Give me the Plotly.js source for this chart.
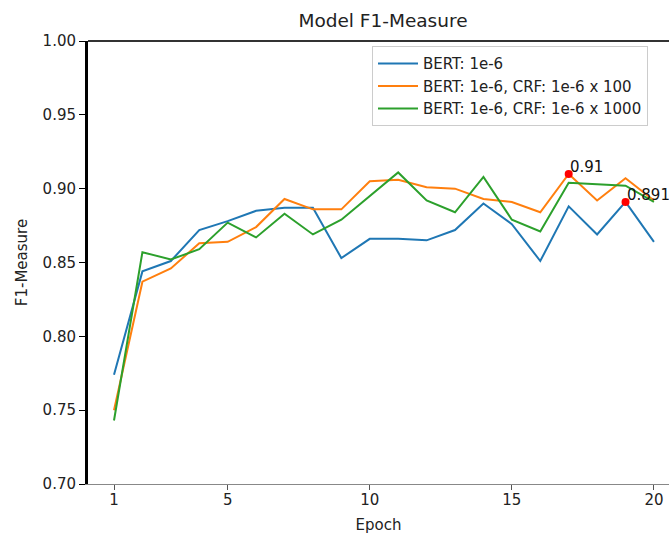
<!DOCTYPE html>
<html>
<head>
<meta charset="utf-8">
<script src="https://cdn.plot.ly/plotly-3.0.1.min.js"></script>
<style>html,body{margin:0;padding:0;background:#fff;overflow:hidden}</style>
</head>
<body>
<div id="chart" style="width:669px;height:536px"></div>
<script>
const epochs = [1,2,3,4,5,6,7,8,9,10,11,12,13,14,15,16,17,18,19,20];
const bert = [0.774,0.844,0.851,0.872,0.878,0.885,0.887,0.887,0.853,0.866,0.866,0.865,0.872,0.890,0.876,0.851,0.888,0.869,0.891,0.864];
const bertCrf100 = [0.750,0.837,0.846,0.863,0.864,0.874,0.893,0.886,0.886,0.905,0.906,0.901,0.900,0.893,0.891,0.884,0.910,0.892,0.907,0.892];
const bertCrf1000 = [0.743,0.857,0.852,0.859,0.877,0.867,0.883,0.869,0.879,0.895,0.911,0.892,0.884,0.908,0.879,0.871,0.904,0.903,0.902,0.891];
const seriesNames = ["BERT: 1e-6","BERT: 1e-6, CRF: 1e-6 x 100","BERT: 1e-6, CRF: 1e-6 x 1000"];
const peakX = [17, 19];
const peakY = [0.910, 0.891];
const peakLabels = ["0.91", "0.891"];
const xTicks = [1,5,10,15,20];
const yTicks = [0.70,0.75,0.80,0.85,0.90,0.95,1.00];

const colors = ["#1f77b4","#ff7f0e","#2ca02c"];
const data = [bert, bertCrf100, bertCrf1000].map((ys,i)=>({
  x: epochs, y: ys, type:'scatter', mode:'lines', name: seriesNames[i],
  line:{color:colors[i], width:2}
}));
data.push({x:peakX, y:peakY, type:'scatter', mode:'markers', showlegend:false,
  marker:{color:'#ff0000', size:8}});

const annotations = peakX.map((x,i)=>({
  x:x, y:peakY[i], xref:'x', yref:'y', text:peakLabels[i], showarrow:false,
  xanchor:'left', yanchor:'bottom', xshift:-1, yshift:-4,
  font:{family:'DejaVu Sans', size:15, color:'#111'}
}));

const layout = {
  width:669, height:536,
  margin:{l:88, r:0, t:41, b:52},
  paper_bgcolor:'#fff', plot_bgcolor:'#fff',
  font:{family:'DejaVu Sans', size:15, color:'#222'},
  title:{text:'Model F1-Measure', x:383/669, xref:'container', xanchor:'center', y:0.962, yref:'container', yanchor:'middle',
    font:{family:'DejaVu Sans', size:18.5, color:'#222'}},
  xaxis:{range:[0.085,20.53], tickvals:xTicks, ticktext:xTicks.map(String), ticks:'outside', ticklen:5, tickcolor:'#555',
    ticklabelstandoff:-3,
    showline:true, linecolor:'#888', linewidth:1, showgrid:false, zeroline:false,
    title:{text:'Epoch', font:{size:15}, standoff:11}},
  yaxis:{range:[0.70,1.00], tickvals:yTicks, ticktext:yTicks.map(v=>v.toFixed(2)), ticks:'outside', ticklen:6, tickcolor:'#000',
    showline:true, linecolor:'#000', linewidth:3, showgrid:false, zeroline:false,
    title:{text:'F1-Measure', font:{size:15}, standoff:12}},
  legend:{x:(372-88)/581, xanchor:'left', y:0.988, yanchor:'top', bgcolor:'#fff', bordercolor:'#ccc', borderwidth:1,
    itemwidth:40,
    font:{family:'DejaVu Sans', size:15, color:'#222'}, tracegroupgap:0},
  shapes:[{type:'line', xref:'paper', yref:'paper', x0:0, x1:1, y0:1, y1:1, line:{color:'#333', width:2}}],
  annotations: annotations
};
Plotly.newPlot('chart', data, layout, {displayModeBar:false});
</script>
</body>
</html>
